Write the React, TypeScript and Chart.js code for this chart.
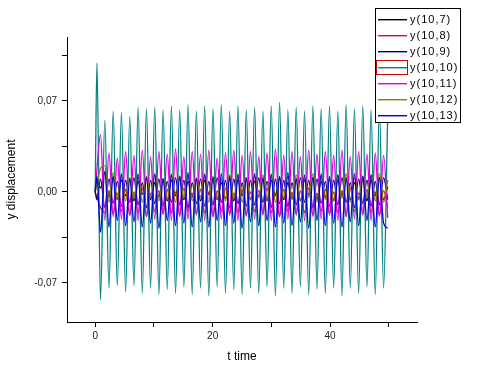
import React, { useEffect, useRef } from 'react';
import { Chart, registerables } from 'chart.js';

Chart.register(...registerables);

// time axis (t)
const TIME = [0, 0.3, 0.9,
  1.64, 2.35, 3.06, 3.77, 4.47, 5.18, 5.89, 6.60, 7.31, 8.02,
  8.73, 9.43, 10.14, 10.85, 11.56, 12.27, 12.98, 13.68, 14.39, 15.10,
  15.81, 16.52, 17.23, 17.94, 18.64, 19.35, 20.06, 20.77, 21.48, 22.19,
  22.90, 23.60, 24.31, 25.02, 25.73, 26.44, 27.15, 27.85, 28.56, 29.27,
  29.98, 30.69, 31.40, 32.11, 32.81, 33.52, 34.23, 34.94, 35.65, 36.36,
  37.07, 37.77, 38.48, 39.19, 39.90, 40.61, 41.32, 42.02, 42.73, 43.44,
  44.15, 44.86, 45.57, 46.28, 46.98, 47.69, 48.40, 49.11, 49.82];

const Y_10_7 = [0, 0.008, 0.003,
  0.015, -0.004, 0.011, -0.006, 0.009, -0.003, 0.010, -0.007, 0.008, -0.002,
  0.011, -0.006, 0.007, -0.004, 0.010, -0.007, 0.009, -0.003, 0.011, -0.006,
  0.008, -0.004, 0.010, -0.007, 0.009, -0.002, 0.011, -0.006, 0.007, -0.005,
  0.010, -0.007, 0.009, -0.003, 0.011, -0.006, 0.008, -0.004, 0.010, -0.007,
  0.009, -0.003, 0.011, -0.006, 0.007, -0.005, 0.010, -0.007, 0.009, -0.002,
  0.011, -0.006, 0.008, -0.004, 0.010, -0.007, 0.009, -0.003, 0.011, -0.006,
  0.007, -0.005, 0.010, -0.007, 0.009, -0.003, 0.011, -0.006, 0.004];

const Y_10_8 = [0, -0.004, -0.012,
  -0.016, 0.001, -0.017, -0.001, -0.015, 0.002, -0.018, 0.000, -0.016, 0.003,
  -0.019, -0.001, -0.015, 0.001, -0.017, 0.002, -0.016, 0.000, -0.018, 0.003,
  -0.015, -0.001, -0.017, 0.002, -0.016, 0.000, -0.019, 0.001, -0.015, 0.003,
  -0.017, -0.001, -0.016, 0.002, -0.018, 0.000, -0.015, 0.001, -0.017, 0.003,
  -0.016, -0.001, -0.019, 0.002, -0.015, 0.000, -0.017, 0.001, -0.016, 0.003,
  -0.018, -0.001, -0.015, 0.002, -0.017, 0.000, -0.016, 0.001, -0.019, 0.003,
  -0.015, -0.001, -0.017, 0.002, -0.016, 0.000, -0.018, 0.001, -0.012];

const Y_10_9 = [0, -0.006, 0.010,
  -0.012, 0.010, -0.009, 0.008, -0.011, 0.009, -0.008, 0.011, -0.010, 0.007,
  -0.012, 0.009, -0.009, 0.010, -0.011, 0.008, -0.008, 0.011, -0.010, 0.009,
  -0.012, 0.007, -0.009, 0.010, -0.011, 0.008, -0.010, 0.011, -0.008, 0.009,
  -0.012, 0.010, -0.009, 0.007, -0.011, 0.009, -0.010, 0.011, -0.008, 0.008,
  -0.012, 0.010, -0.009, 0.009, -0.011, 0.007, -0.010, 0.011, -0.008, 0.009,
  -0.012, 0.010, -0.009, 0.008, -0.011, 0.009, -0.010, 0.011, -0.008, 0.007,
  -0.012, 0.010, -0.009, 0.009, -0.011, 0.008, -0.010, 0.011, -0.006];

const Y_10_10 = [0, 0.099, -0.083,
  0.055, -0.074, 0.062, -0.072, 0.061, -0.077, 0.058, -0.072, 0.065, -0.078,
  0.064, -0.074, 0.065, -0.079, 0.063, -0.075, 0.066, -0.078, 0.063, -0.073,
  0.067, -0.079, 0.062, -0.074, 0.066, -0.080, 0.064, -0.073, 0.067, -0.078,
  0.062, -0.075, 0.066, -0.079, 0.063, -0.074, 0.065, -0.078, 0.062, -0.073,
  0.066, -0.080, 0.069, -0.074, 0.063, -0.078, 0.065, -0.073, 0.062, -0.079,
  0.066, -0.075, 0.064, -0.078, 0.066, -0.074, 0.062, -0.080, 0.067, -0.074,
  0.064, -0.078, 0.066, -0.073, 0.063, -0.079, 0.065, -0.074, 0.060];

const Y_10_11 = [0, 0.018, 0.044,
  -0.022, 0.030, -0.019, 0.026, -0.021, 0.031, -0.018, 0.028, -0.022, 0.032,
  -0.019, 0.027, -0.021, 0.031, -0.017, 0.029, -0.022, 0.033, -0.019, 0.027,
  -0.021, 0.031, -0.018, 0.029, -0.022, 0.032, -0.019, 0.026, -0.021, 0.030,
  -0.018, 0.032, -0.022, 0.028, -0.019, 0.031, -0.021, 0.027, -0.018, 0.030,
  -0.022, 0.033, -0.019, 0.028, -0.021, 0.031, -0.018, 0.027, -0.022, 0.032,
  -0.019, 0.029, -0.021, 0.031, -0.018, 0.028, -0.022, 0.032, -0.019, 0.027,
  -0.021, 0.031, -0.018, 0.029, -0.022, 0.030, -0.019, 0.028, -0.020];

const Y_10_12 = [0, 0.006, 0.018,
  0.020, -0.008, 0.015, -0.006, 0.013, -0.007, 0.011, -0.005, 0.014, -0.008,
  0.012, -0.004, 0.013, -0.007, 0.010, -0.006, 0.014, -0.008, 0.012, -0.005,
  0.013, -0.007, 0.011, -0.004, 0.014, -0.008, 0.012, -0.006, 0.010, -0.007,
  0.013, -0.005, 0.014, -0.008, 0.011, -0.006, 0.012, -0.004, 0.013, -0.007,
  0.014, -0.008, 0.010, -0.005, 0.012, -0.006, 0.013, -0.007, 0.011, -0.004,
  0.014, -0.008, 0.012, -0.006, 0.010, -0.007, 0.013, -0.005, 0.014, -0.008,
  0.011, -0.006, 0.012, -0.004, 0.013, -0.007, 0.014, -0.008, 0.009];

const Y_10_13 = [0, 0.012, -0.031,
  0.016, -0.027, 0.012, -0.022, 0.014, -0.026, 0.010, -0.023, 0.013, -0.027,
  0.011, -0.024, 0.014, -0.028, 0.010, -0.022, 0.013, -0.026, 0.012, -0.024,
  0.015, -0.027, 0.010, -0.023, 0.013, -0.027, 0.011, -0.022, 0.014, -0.026,
  0.012, -0.024, 0.013, -0.028, 0.010, -0.023, 0.014, -0.026, 0.011, -0.022,
  0.013, -0.027, 0.012, -0.024, 0.015, -0.026, 0.010, -0.023, 0.013, -0.028,
  0.011, -0.022, 0.014, -0.026, 0.012, -0.024, 0.013, -0.027, 0.010, -0.023,
  0.014, -0.026, 0.012, -0.022, 0.013, -0.027, 0.011, -0.024, -0.028];

const SERIES_NAMES = ['y(10,7)', 'y(10,8)', 'y(10,9)', 'y(10,10)', 'y(10,11)', 'y(10,12)', 'y(10,13)'];
const SERIES_VALUES = [Y_10_7, Y_10_8, Y_10_9, Y_10_10, Y_10_11, Y_10_12, Y_10_13];
const SERIES_COLORS = ['#000000', '#D01030', '#000080', '#008080', '#E000E0', '#808000', '#0000E0'];
const HIGHLIGHT_INDEX = 3;

const X_TICKS = [0, 10, 20, 30, 40, 50];
const X_TICK_LABELS = ['0', '', '20', '', '40', ''];
const Y_TICKS = [-0.07, -0.035, 0, 0.035, 0.07, 0.105];
const Y_TICK_LABELS = ['-0,07', '', '0,00', '', '0,07', ''];

const X_TITLE = 't time';
const Y_TITLE = 'y displacement';

const FONT = '"Liberation Sans", Arial, sans-serif';

const legendPlugin = {
  id: 'originLegend',
  afterDraw(chart: any) {
    const ctx = chart.ctx as CanvasRenderingContext2D;
    ctx.save();
    const bx = 375.5, by = 8.5, bw = 85, bh = 114;
    ctx.fillStyle = '#ffffff';
    ctx.fillRect(bx, by, bw, bh);
    ctx.strokeStyle = '#000000';
    ctx.lineWidth = 1;
    ctx.strokeRect(bx, by, bw, bh);
    ctx.font = '11px ' + FONT;
    ctx.textBaseline = 'middle';
    ctx.textAlign = 'left';
    try { (ctx as any).letterSpacing = '1px'; } catch (e) { /* ignore */ }
    SERIES_NAMES.forEach((name, i) => {
      const y = 19 + i * 16;
      ctx.fillStyle = SERIES_COLORS[i];
      ctx.fillRect(378, y, 29, 1.4);
      ctx.fillStyle = '#000000';
      ctx.fillText(name, 410, y + 1);
      if (i === HIGHLIGHT_INDEX) {
        ctx.strokeStyle = '#CC0000';
        ctx.lineWidth = 1;
        ctx.strokeRect(376.5, y - 6.5, 31, 14);
      }
    });
    ctx.restore();
  },
};

export default function App() {
  const canvasRef = useRef<HTMLCanvasElement | null>(null);

  useEffect(() => {
    if (!canvasRef.current) return;
    Chart.defaults.font.family = FONT;
    const datasets = SERIES_NAMES.map((name, i) => ({
      label: name,
      data: TIME.map((t, j) => ({ x: t, y: SERIES_VALUES[i][j] })),
      borderColor: SERIES_COLORS[i],
      backgroundColor: SERIES_COLORS[i],
      borderWidth: 1.3,
      pointRadius: 0,
      cubicInterpolationMode: 'monotone' as const,
      fill: false,
      order: SERIES_NAMES.length - i,
    }));

    const chart = new Chart(canvasRef.current, {
      type: 'line',
      data: { datasets },
      plugins: [legendPlugin],
      options: {
        responsive: false,
        animation: false,
        layout: { padding: { top: 37, right: 61, left: 0, bottom: 0 } },
        plugins: { legend: { display: false }, tooltip: { enabled: false } },
        scales: {
          x: {
            type: 'linear',
            min: -4.8,
            max: 54.8,
            afterBuildTicks: (scale: any) => { scale.ticks = X_TICKS.map((v) => ({ value: v })); },
            afterFit: (scale: any) => { scale.height = 54; },
            grid: { drawOnChartArea: false, drawTicks: true, tickLength: 5, tickColor: '#000', tickWidth: 1 },
            border: { display: true, color: '#000', width: 1 },
            ticks: {
              autoSkip: false,
              maxRotation: 0,
              padding: 3,
              color: '#222',
              font: { size: 10 },
              callback: (_v: any, i: number) => X_TICK_LABELS[i],
            },
            title: { display: true, text: X_TITLE, color: '#000', font: { size: 12 }, padding: { top: 4, bottom: 12 } },
          },
          y: {
            type: 'linear',
            min: -0.1,
            max: 0.119,
            afterBuildTicks: (scale: any) => { scale.ticks = Y_TICKS.map((v) => ({ value: v })); },
            afterFit: (scale: any) => { scale.width = 67; },
            grid: { drawOnChartArea: false, drawTicks: true, tickLength: 5, tickColor: '#000', tickWidth: 1 },
            border: { display: true, color: '#000', width: 1 },
            ticks: {
              autoSkip: false,
              padding: 5,
              color: '#222',
              font: { size: 10 },
              callback: (_v: any, i: number) => Y_TICK_LABELS[i],
            },
            title: { display: true, text: Y_TITLE, color: '#000', font: { size: 12 }, padding: { top: 4, bottom: 4 } },
          },
        },
      },
    } as any);
    return () => chart.destroy();
  }, []);

  return (
    <div style={{ position: 'absolute', left: 0, top: 0, width: 478, height: 376, background: '#fff' }}>
      <canvas ref={canvasRef} width={478} height={376} style={{ display: 'block' }} />
    </div>
  );
}
